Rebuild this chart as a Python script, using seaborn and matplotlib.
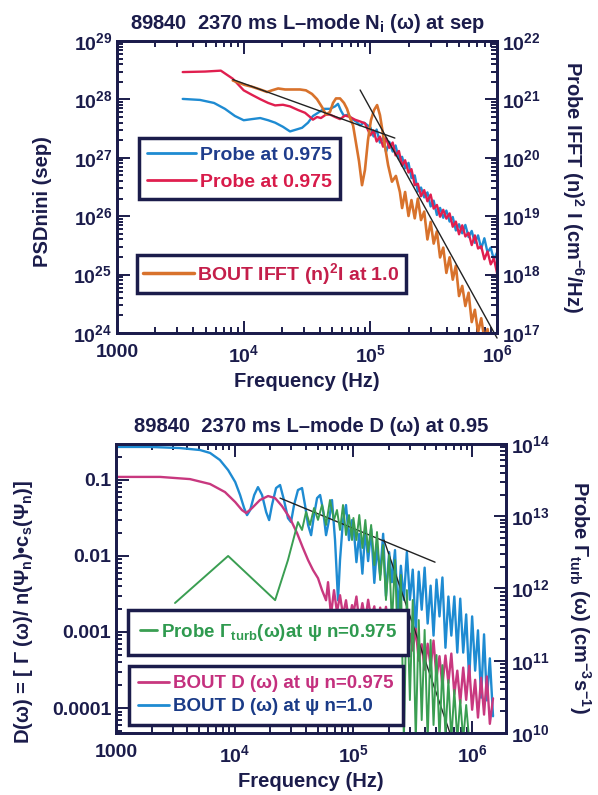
import numpy as np
import matplotlib
matplotlib.use("Agg")
import matplotlib.pyplot as plt
import seaborn as sns
from matplotlib import font_manager
from matplotlib.lines import Line2D
from matplotlib.ticker import FixedLocator, FixedFormatter, LogLocator, NullFormatter

# ---------------- top panel: N_i(omega) at sep ----------------
# shared high-frequency grid (Hz) for the noisy part of the top spectra
top_hf = [1.00e5, 1.06e5, 1.12e5, 1.19e5, 1.26e5, 1.33e5, 1.41e5, 1.50e5, 1.58e5, 1.68e5,
          1.78e5, 1.88e5, 2.00e5, 2.11e5, 2.24e5, 2.37e5, 2.51e5, 2.66e5, 2.82e5, 2.99e5,
          3.16e5, 3.35e5, 3.55e5, 3.76e5, 3.98e5, 4.22e5, 4.47e5, 4.73e5, 5.01e5, 5.31e5,
          5.62e5, 5.96e5, 6.31e5, 6.68e5, 7.08e5, 7.50e5, 7.94e5, 8.41e5, 8.91e5, 9.44e5, 1.00e6]

red_lf = [3.3e3, 4.95e3, 6.6e3, 8.2e3, 1.0e4, 1.16e4, 1.35e4, 1.56e4, 1.77e4, 2.04e4, 2.32e4, 2.68e4, 3.05e4,
          3.34e4, 3.52e4, 3.79e4, 4.07e4, 4.46e4, 4.8e4, 5.26e4, 5.76e4, 6.31e4, 6.91e4, 7.56e4, 8.28e4, 9.06e4]
red_lf_psd = [2.94e28, 3.0e28, 3.11e28, 2.26e28, 1.43e28, 1.20e28, 1.01e28, 8.7e27, 7.9e27, 8.1e27, 7.6e27, 6.6e27,
              5.9e27, 5.0e27, 4.5e27, 5.0e27, 4.8e27, 5.5e27, 5.5e27, 5.0e27, 4.6e27, 5.3e27, 5.0e27, 4.5e27,
              4.2e27, 3.9e27]
red_hf_psd = [2.43e27, 2.94e27, 1.90e27, 2.31e27, 1.55e27, 2.18e27, 1.48e27, 1.83e27, 1.10e27, 1.31e27,
              7.3e26, 9.1e26, 5.6e26, 6.4e26, 3.4e26, 3.6e26, 2.2e26, 2.8e26, 1.8e26, 2.35e26,
              1.35e26, 1.56e26, 9.8e25, 1.29e26, 9.1e25, 1.12e26, 6.6e25, 8.1e25, 4.9e25, 7.0e25,
              4.5e25, 5.2e25, 3.2e25, 4.7e25, 2.8e25, 3.05e25, 1.83e25, 2.5e25, 1.5e25, 1.9e25, 1.06e25]

blue_lf = [3.3e3, 4.52e3, 5.83e3, 7.11e3, 8.53e3, 1.0e4, 1.16e4, 1.35e4, 1.56e4, 1.77e4, 2.04e4, 2.32e4, 2.59e4,
           2.89e4, 3.22e4, 3.52e4, 3.86e4, 4.30e4, 4.8e4, 5.26e4, 5.55e4, 5.86e4, 6.19e4, 6.66e4, 7.16e4,
           7.7e4, 8.28e4, 8.9e4]
blue_lf_psd = [1.02e28, 9.8e27, 8.7e27, 6.9e27, 5.2e27, 4.4e27, 4.6e27, 4.8e27, 4.4e27, 4.0e27, 3.4e27, 2.83e27,
               3.04e27, 3.27e27, 4.0e27, 5.2e27, 5.9e27, 6.9e27, 6.9e27, 7.6e27, 8.4e27, 6.4e27, 5.2e27, 5.5e27,
               4.6e27, 4.2e27, 3.6e27, 4.0e27]
blue_hf_psd = [3.33e27, 2.32e27, 3.05e27, 1.82e27, 2.21e27, 1.26e27, 1.88e27, 1.28e27, 1.63e27, 9.5e26,
               1.04e27, 6.6e26, 8.2e26, 4.5e26, 5.0e26, 2.65e26, 3.1e26, 2.1e26, 2.56e26, 1.47e26,
               1.85e26, 1.05e26, 1.39e26, 9.4e25, 1.25e26, 8.1e25, 9.7e25, 5.7e25, 7.3e25, 5.1e25,
               7.1e25, 4.4e25, 5.6e25, 3.5e25, 4.7e25, 2.8e25, 4.2e25, 2.4e25, 2.9e25, 1.81e25, 2.4e25]

bout_lf = [8.2e3, 1.02e4, 1.16e4, 1.35e4, 1.53e4, 1.67e4, 1.87e4, 2.12e4, 2.41e4, 2.78e4, 3.10e4, 3.46e4,
           3.79e4, 4.15e4, 4.46e4, 4.8e4, 5.07e4, 5.35e4, 5.76e4, 6.19e4, 6.54e4, 6.91e4, 7.30e4, 7.7e4,
           8.13e4, 8.59e4, 9.06e4, 9.57e4, 1.01e5, 1.07e5, 1.13e5, 1.19e5, 1.28e5, 1.38e5, 1.48e5, 1.59e5, 1.71e5]
bout_lf_psd = [2.11e28, 1.77e28, 1.65e28, 1.48e28, 1.34e28, 1.43e28, 1.54e28, 1.48e28, 1.48e28, 1.48e28,
               1.43e28, 1.24e28, 1.01e28, 7.4e27, 5.5e27, 6.1e27, 8.7e27, 1.04e28, 1.04e28, 8.7e27,
               6.9e27, 4.8e27, 3.6e27, 1.79e27, 8.8e26, 3.4e26, 6.2e26, 2.0e27, 4.4e27, 6.6e27,
               8.0e27, 5.4e27, 2.0e27, 7.5e26, 3.9e26, 4.9e26, 2.6e26]
bout_hf_psd = [1.38e26, 2.6e26, 1.01e26, 1.89e26, 9.2e25, 2.0e26, 8.6e25, 1.2e26, 4.0e25, 8.0e25,
               3.4e25, 5.5e25, 1.97e25, 2.9e25, 1.07e25, 1.98e25, 8.2e24, 1.42e25, 4.3e24, 6.4e24,
               2.9e24, 4.9e24, 1.54e24, 2.5e24, 1.02e24, 1.79e24, 7.9e23, 1.17e24, 4.9e23, 7.7e23, 3.9e23]

fit1_f, fit1_p = [8.2e3, 1.56e5], [2.19e28, 2.18e27]
fit2_f, fit2_p = [8.3e4, 1.0e6], [1.45e28, 8.2e23]

# ---------------- bottom panel: D(omega) at 0.95 ----------------
bot_hf = [1.00e5, 1.06e5, 1.12e5, 1.19e5, 1.26e5, 1.33e5, 1.41e5, 1.50e5, 1.58e5, 1.68e5,
          1.78e5, 1.88e5, 2.00e5, 2.11e5, 2.24e5, 2.37e5, 2.51e5, 2.66e5, 2.82e5, 2.99e5,
          3.16e5, 3.35e5, 3.55e5, 3.76e5, 3.98e5, 4.22e5, 4.47e5, 4.73e5, 5.01e5, 5.31e5,
          5.62e5, 5.96e5, 6.31e5, 6.68e5, 7.08e5, 7.50e5, 7.94e5, 8.41e5, 8.91e5, 9.44e5,
          1.00e6, 1.06e6, 1.12e6, 1.19e6, 1.26e6, 1.33e6, 1.41e6, 1.50e6]

dblue_lf = [1.0e3, 1.93e3, 3.46e3, 5.1e3, 6.2e3, 7.5e3, 8.8e3, 1.01e4, 1.11e4, 1.20e4, 1.27e4, 1.35e4, 1.46e4,
            1.57e4, 1.70e4, 1.84e4, 1.95e4, 2.06e4, 2.23e4, 2.41e4, 2.60e4, 2.81e4, 2.98e4, 3.16e4, 3.41e4,
            3.69e4, 3.91e4, 4.15e4, 4.40e4, 4.66e4, 4.94e4, 5.24e4, 5.55e4, 5.88e4, 6.23e4, 6.60e4, 7.0e4,
            7.42e4, 7.71e4, 8.17e4, 8.66e4, 9.18e4, 9.73e4]
dblue_lf_d = [0.270, 0.270, 0.261, 0.246, 0.225, 0.182, 0.134, 0.0933, 0.063, 0.0425, 0.0343, 0.040, 0.063,
              0.080, 0.063, 0.0376, 0.0295, 0.0465, 0.0778, 0.0853, 0.0541, 0.0313, 0.0278, 0.0465, 0.0733,
              0.0778, 0.0465, 0.0254, 0.0187, 0.0343, 0.0574, 0.063, 0.040, 0.0187, 0.0295, 0.0541, 0.0161,
              0.00261, 0.00879, 0.0295, 0.0465, 0.0161, 0.0295]
dblue_hf_d = [0.0252, 0.00826, 0.0195, 0.00583, 0.0223, 0.00853, 0.0226, 0.00441, 0.0131, 0.00562,
              0.0195, 0.00296, 0.0112, 0.00451, 0.0119, 0.00176, 0.00741, 0.00265, 0.0113, 0.00265,
              0.00659, 0.00104, 0.0062, 0.00196, 0.0070, 0.00129, 0.00406, 0.000895, 0.00488, 0.0016,
              0.0052, 0.00062, 0.00292, 0.000895, 0.00292, 0.000536, 0.00274, 0.000535, 0.0017, 0.00023,
              0.0016, 0.00031, 0.00105, 0.000137, 0.00093, 0.000126, 0.00045, 7.8e-5]

dpink_lf = [1.0e3, 2.35e3, 4.2e3, 6.2e3, 8.28e3, 1.01e4, 1.15e4, 1.25e4, 1.40e4, 1.63e4, 1.91e4, 2.19e4,
            2.50e4, 2.92e4, 3.35e4, 3.76e4, 4.15e4, 4.57e4, 5.03e4, 5.44e4, 5.88e4, 6.11e4, 6.47e4, 6.86e4,
            7.27e4, 7.71e4, 8.17e4, 8.66e4, 9.18e4, 9.73e4]
dpink_lf_d = [0.109, 0.109, 0.102, 0.0879, 0.0689, 0.0509, 0.040, 0.0365, 0.0425, 0.0541, 0.0611, 0.0574,
              0.0451, 0.0313, 0.0199, 0.01265, 0.00879, 0.00649, 0.00509, 0.00354, 0.00261, 0.00451,
              0.00166, 0.00354, 0.00182, 0.00304, 0.00166, 0.00261, 0.00134, 0.00225]
dpink_hf_d = [0.00175, 0.00292, 0.00135, 0.00239, 0.00142, 0.00265, 0.00153, 0.00217, 0.000998, 0.00209,
              0.00122, 0.00214, 0.00099, 0.00143, 0.00078, 0.00166, 0.00073, 0.00117, 0.00051, 0.00095,
              0.00057, 0.0011, 0.00042, 0.00069, 0.00032, 0.0007, 0.00035, 0.00077, 0.00025, 0.00048,
              0.000195, 0.00049, 0.000214, 0.00052, 0.000152, 0.00031, 0.000116, 0.00034, 0.000128, 0.00036,
              9.5e-5, 0.000235, 7.5e-5, 0.00025, 8.2e-5, 0.00026, 6.2e-5, 0.000134]

gturb_lf = [3.14e3, 8.8e3, 2.19e4, 2.81e4, 3.41e4, 3.69e4, 3.99e4, 4.31e4, 4.66e4, 5.03e4, 5.44e4, 5.88e4,
            6.35e4, 6.86e4, 7.27e4, 7.71e4, 8.17e4, 8.66e4, 9.18e4, 9.73e4]
gturb_lf_val = [6.3e11, 2.82e12, 6.9e11, 2.48e12, 8.3e12, 6.46e12, 1.15e13, 7.57e12, 1.30e13, 8.9e12,
                1.43e13, 7.57e12, 1.68e13, 8.9e12, 1.22e13, 6.46e12, 1.43e13, 5.5e12, 1.04e13, 4.69e12]
gturb_hf_val = [9.46e12, 4.69e12, 1.04e13, 3.64e12, 8.87e12, 3.2e12, 7.57e12, 2.11e12, 6.05e12, 1.31e12,
                4.0e12, 6.93e11, 2.91e12, 3.13e11, 2.48e12, 1.41e11, 1.54e12, 8.0e9, 9.5e11, 2.86e10,
                6.93e11, 8.0e9, 3.66e11, 1.51e10, 2.67e11, 8.0e9, 1.94e11, 1.29e10, 1.2e11, 8.0e9,
                8.7e10, 9.4e9, 5.4e10, 8.0e9, 3.94e10, 8.0e9, 2.86e10, 8.0e9, 2.44e10, 8.0e9]

fit3_f, fit3_d = [2.41e4, 4.87e5], [0.0574, 0.00826]
fit4_f, fit4_d = [1.81e5, 6.52e5], [0.0161, 4.65e-5]

# ---------------- style ----------------
NAVY = "#1b1c4b"
C_BLUE = "#1e8bd2"
C_RED = "#e01f4f"
C_ORANGE = "#d8722c"
C_PINK = "#c8387f"
C_GREEN = "#3a9e52"

sns.set_theme(style="ticks")
installed = {f.name for f in font_manager.fontManager.ttflist}
base_font = "Liberation Sans Narrow" if "Liberation Sans Narrow" in installed else "Liberation Sans"
plt.rcParams["font.family"] = [base_font, "DejaVu Sans"]
plt.rcParams["font.weight"] = "bold"
plt.rcParams["mathtext.fontset"] = "custom"
plt.rcParams["mathtext.rm"] = base_font + ":bold"
plt.rcParams["mathtext.it"] = base_font + ":bold"
plt.rcParams["mathtext.bf"] = base_font + ":bold"
plt.rcParams["axes.unicode_minus"] = True

fig = plt.figure(figsize=(5.98, 7.95), dpi=100)
fig.patch.set_facecolor("white")
ax_top = fig.add_axes([0.1957, 0.5811, 0.6355, 0.3673])
ax_bot = fig.add_axes([0.1940, 0.0780, 0.6522, 0.3635])

LBL = dict(fontsize=14.5, color=NAVY, fontweight="bold")


def trace(ax, f, v, color, lw=1.7, zorder=2):
    sns.lineplot(x=f, y=v, ax=ax, color=color, lw=lw, estimator=None, sort=False,
                 legend=False, zorder=zorder)


def log_ticks(axis, majors, labels):
    axis.set_major_locator(FixedLocator(majors))
    axis.set_major_formatter(FixedFormatter(labels))
    axis.set_minor_locator(LogLocator(base=10, subs=np.arange(2, 10), numticks=60))
    axis.set_minor_formatter(NullFormatter())


def frame(ax, left=True):
    for sp in ax.spines.values():
        sp.set_color(NAVY)
        sp.set_linewidth(2)
    ax.tick_params(which="both", direction="in", colors=NAVY, labelsize=14, width=1.4,
                   top=True, bottom=True, left=left, right=not left,
                   labelleft=left, labelright=not left)
    ax.tick_params(which="major", length=9)
    ax.tick_params(which="minor", length=4.5)
    ax.tick_params(axis="x", which="both", pad=8)


def boxed_legend(ax, handles, labels, colors, anchor, hlen, fs=14, bpad=0.3, lspace=0.1):
    leg = ax.legend(handles, labels, loc="upper left", bbox_to_anchor=anchor, frameon=True,
                    fancybox=False, edgecolor=NAVY, facecolor="white", framealpha=1,
                    fontsize=fs, handlelength=hlen, handletextpad=0.2, borderpad=bpad,
                    labelspacing=lspace, borderaxespad=0)
    leg.get_frame().set_linewidth(2.5)
    for t, c in zip(leg.get_texts(), colors):
        t.set_color(c)
    return leg


xt = [1e3, 1e4, 1e5, 1e6]
xt_lab = ["1000", "$10^{4}$", "$10^{5}$", "$10^{6}$"]

# ---------------- top panel ----------------
ax = ax_top
ax.set_xscale("log")
ax.set_yscale("log")
trace(ax, blue_lf + top_hf, blue_lf_psd + blue_hf_psd, C_BLUE)
trace(ax, red_lf + top_hf, red_lf_psd + red_hf_psd, C_RED)
trace(ax, bout_lf + top_hf[10:], bout_lf_psd + bout_hf_psd, C_ORANGE, lw=1.9)
ax.plot(fit1_f, fit1_p, color="#222222", lw=1.0, zorder=4)
ax.plot(fit2_f, fit2_p, color="#222222", lw=1.0, zorder=4, clip_on=False)
ax.set_xlim(1e3, 1e6)
ax.set_ylim(1e24, 1e29)
log_ticks(ax.xaxis, xt, xt_lab)
log_ticks(ax.yaxis, [10.0 ** k for k in range(24, 30)], ["$10^{%d}$" % k for k in range(24, 30)])
frame(ax)
ax.set_xlabel("Frequency (Hz)", labelpad=4, **LBL)
ax.set_ylabel("PSDnini (sep)", **LBL)
ax.yaxis.set_label_coords(-0.171, 0.45)
ax.set_title("89840  2370 ms L\u2013mode N$_{\\rm i}$ (\u03c9) at sep", pad=9, **LBL)

ax_r = ax.twinx()
ax_r.set_yscale("log")
ax_r.set_ylim(1e17, 1e22)
log_ticks(ax_r.yaxis, [10.0 ** k for k in range(17, 23)], ["$10^{%d}$" % k for k in range(17, 23)])
frame(ax_r, left=False)
ax_r.tick_params(top=False, bottom=False)
ax_r.set_ylabel("Probe IFFT (n)$^{2}$ I (cm$^{-6}$/Hz)", rotation=270, **LBL)
ax_r.yaxis.set_label_coords(1.234, 0.5)

leg1 = boxed_legend(ax_r, [Line2D([], [], color=C_BLUE, lw=2), Line2D([], [], color=C_RED, lw=2)],
                    ["Probe at 0.975", "Probe at 0.975"], ["#1f3d8c", "#d81b4a"], (0.058, 0.668), 2.5,
                    bpad=0.42, lspace=0.5)
ax_r.add_artist(leg1)
boxed_legend(ax_r, [Line2D([], [], color=C_ORANGE, lw=2.5)], ["BOUT IFFT (n)$^{2}$I at 1.0"],
             ["#c41e4a"], (0.053, 0.267), 2.6)

# ---------------- bottom panel ----------------
ax = ax_bot
ax.set_xscale("log")
ax.set_yscale("log")
trace(ax, dblue_lf + bot_hf, dblue_lf_d + dblue_hf_d, C_BLUE)
trace(ax, dpink_lf + bot_hf, dpink_lf_d + dpink_hf_d, C_PINK)
ax.set_xlim(1e3, 1.93e6)
ax.set_ylim(4.7e-5, 0.295)
log_ticks(ax.xaxis, xt, xt_lab)
log_ticks(ax.yaxis, [1e-4, 1e-3, 1e-2, 1e-1], ["0.0001", "0.001", "0.01", "0.1"])
frame(ax)
ax.set_xlabel("Frequency (Hz)", labelpad=4, **LBL)
ax.set_ylabel("D(\u03c9) = [ \u0393 (\u03c9)/ n(\u03a8$_{\\rm n}$)\u2022c$_{\\rm s}$(\u03a8$_{\\rm n}$)]", **LBL)
ax.yaxis.set_label_coords(-0.208, 0.42)
ax.set_title("89840  2370 ms L\u2013mode D (\u03c9) at 0.95", pad=9, **LBL)

ax_g = ax.twinx()
ax_g.set_yscale("log")
trace(ax_g, gturb_lf + bot_hf[:40], gturb_lf_val + gturb_hf_val, C_GREEN, lw=1.4)
ax_g.set_ylim(1e10, 1e14)
ax.plot(fit3_f, fit3_d, color="#222222", lw=1.0, zorder=4)
ax.plot(fit4_f, fit4_d, color="#222222", lw=1.0, zorder=4)
log_ticks(ax_g.yaxis, [10.0 ** k for k in range(10, 15)], ["$10^{%d}$" % k for k in range(10, 15)])
frame(ax_g, left=False)
ax_g.tick_params(top=False, bottom=False)
ax_g.set_ylabel("Probe \u0393$_{\\rm turb}$ (\u03c9) (cm$^{-3}$s$^{-1}$)", rotation=270, **LBL)
ax_g.yaxis.set_label_coords(1.223, 0.47)

legA = boxed_legend(ax_g, [Line2D([], [], color=C_GREEN, lw=2)],
                    ["Probe \u0393$_{\\rm turb}$(\u03c9)at \u03c8 n=0.975"], ["#2f9a4f"], (0.031, 0.426), 0.9,
                    fs=13.5, bpad=0.63)
ax_g.add_artist(legA)
boxed_legend(ax_g, [Line2D([], [], color=C_PINK, lw=2), Line2D([], [], color=C_BLUE, lw=2)],
             ["BOUT D (\u03c9) at \u03c8 n=0.975", "BOUT D (\u03c9) at \u03c8 n=1.0"],
             ["#c4307e", "#1a3b87"], (0.033, 0.232), 1.65, fs=13.5, bpad=0.5, lspace=0.3)

fig.savefig("out.png", dpi=100, facecolor="white")
